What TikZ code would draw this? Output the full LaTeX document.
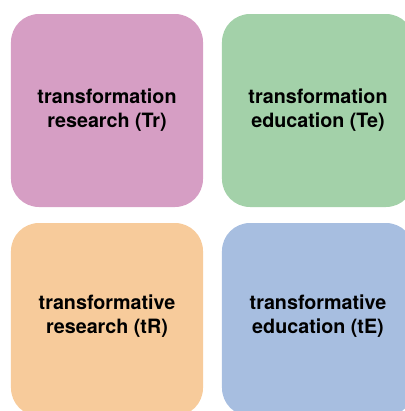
\documentclass[tikz,border=0pt]{standalone}
\usepackage{fontspec}
\setmainfont{TeX Gyre Heros}
\definecolor{trpink}{HTML}{D69EC4}
\definecolor{tegreen}{HTML}{A3D1A9}
\definecolor{trorange}{HTML}{F7CB9B}
\definecolor{teblue}{HTML}{A7BEE0}
\begin{document}
\begin{tikzpicture}[x=1bp, y=-1bp,
    box/.style={rectangle, rounded corners=28bp, minimum width=192bp, minimum height=193bp, inner sep=0pt},
    lbl/.style={align=center, font=\fontsize{19.8}{24}\selectfont\bfseries}]

        % Picture frame (the right and bottom boxes run off the edge)
        \clip (0,0) rectangle (405,411);

        % Boxes in the first row (top)
        \node[box, fill=trpink] (Tr) at (107,110.5) {};
        \node[box, fill=tegreen] (Te) at (318,110.5) {};

        % Boxes in the second row (bottom)
        \node[box, fill=trorange] (tR) at (107,319.5) {};
        \node[box, fill=teblue] (tE) at (318,319.5) {};

        % Labels
        \node[lbl] (TrText) at (Tr.center) {transformation\\research (Tr)};
        \node[lbl] (TeText) at (Te.center) {transformation\\education (Te)};
        \node[lbl] (tRText) at ([yshift=3bp]tR.center) {transformative\\research (tR)};
        \node[lbl] (tEText) at ([yshift=3bp]tE.center) {transformative\\education (tE)};

    \end{tikzpicture}
\end{document}
